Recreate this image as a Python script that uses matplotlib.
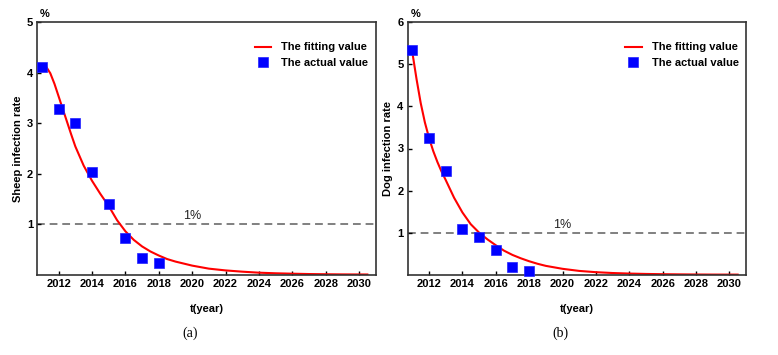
import matplotlib
matplotlib.use("Agg")
import matplotlib.pyplot as plt

plt.rcParams['font.family'] = ['Liberation Sans', 'DejaVu Sans']

# ---- data ----
years = [2011, 2012, 2013, 2014, 2015, 2016, 2017, 2018]
sheep_actual = [4.12, 3.28, 3.00, 2.03, 1.40, 0.72, 0.34, 0.24]
dog_actual = [5.34, 3.25, 2.46, 1.08, 0.89, 0.58, 0.18, 0.08]

fit_t = [2011, 2011.25, 2011.5, 2011.75, 2012, 2012.25, 2012.5, 2012.75, 2013,
         2013.5, 2014, 2014.5, 2015, 2015.5, 2016, 2016.5, 2017, 2017.5, 2018,
         2018.5, 2019, 2020, 2021, 2022, 2023, 2024, 2025, 2026, 2027, 2028,
         2029, 2030.5]
sheep_fit = [4.15, 4.12, 3.99, 3.78, 3.53, 3.28, 3.03, 2.78, 2.54,
             2.16, 1.86, 1.60, 1.36, 1.08, 0.86, 0.69, 0.56, 0.46, 0.38,
             0.31, 0.26, 0.18, 0.12, 0.085, 0.06, 0.04, 0.028, 0.02, 0.013, 0.009,
             0.006, 0.004]
dog_fit = [5.28, 4.65, 4.08, 3.62, 3.25, 2.94, 2.68, 2.45, 2.25,
           1.83, 1.48, 1.20, 1.00, 0.84, 0.70, 0.57, 0.47, 0.39, 0.32,
           0.26, 0.21, 0.14, 0.09, 0.06, 0.04, 0.027, 0.018, 0.012, 0.008, 0.005,
           0.003, 0.002]

x_ticks = [2012, 2014, 2016, 2018, 2020, 2022, 2024, 2026, 2028, 2030]
sheep_yticks = [1, 2, 3, 4, 5]
dog_yticks = [1, 2, 3, 4, 5, 6]
threshold = 1.0

W, H = 778, 355
fig = plt.figure(figsize=(W / 100, H / 100), dpi=100)

def make_axes(left_px, right_px, top_px=22.3, bottom_px=274.7):
    return fig.add_axes([left_px / W, 1 - bottom_px / H,
                         (right_px - left_px) / W, (bottom_px - top_px) / H])

panels = [
    (make_axes(37.3, 375.7), sheep_actual, sheep_fit, sheep_yticks, 5,
     'Sheep infection rate', '(a)', 190),
    (make_axes(407.7, 746.0), dog_actual, dog_fit, dog_yticks, 6,
     'Dog infection rate', '(b)', 560),
]

for ax, actual, fit, yt, ymax, ylab, cap, cap_x in panels:
    ax.axhline(threshold, color='#808080', lw=1.4, ls=(0, (4, 2.5)), zorder=1)
    ax.plot(fit_t, fit, color='#ff0000', lw=1.5, label='The fitting value', zorder=2)
    ax.plot(years, actual, ls='none', marker='s', ms=7.8, color='#0000ff',
            mec='#2222ff', mew=0.5, label='The actual value', zorder=3, clip_on=False)
    ax.set_xlim(2010.72, 2031)
    ax.set_ylim(0, ymax)
    ax.set_xticks(x_ticks)
    ax.set_yticks(yt)
    ax.tick_params(direction='in', length=3, width=1, labelsize=8, pad=3, colors='black')
    for lbl in ax.get_xticklabels() + ax.get_yticklabels():
        lbl.set_fontweight('bold')
    for s in ax.spines.values():
        s.set_linewidth(1.2)
        s.set_color('#333333')
    ax.set_xlabel('t(year)', fontsize=8, fontweight='bold', labelpad=11)
    ax.set_ylabel(ylab, fontsize=8, fontweight='bold', labelpad=3)
    ax.text(2020, threshold + 0.04, '1%', fontsize=9, ha='center', va='bottom',
            color='#222222')
    ax.text(0.008, 1.015, '%', transform=ax.transAxes, fontsize=8, fontweight='bold',
            ha='left', va='bottom')
    leg = ax.legend(loc='upper right', bbox_to_anchor=(1.008, 0.96), frameon=False,
                    prop={'size': 8, 'weight': 'bold'}, handlelength=1.5,
                    handletextpad=0.9, labelspacing=0.5, markerscale=1.0)
    fig.text(cap_x / W, 1 - 333 / H, cap, fontsize=10, family='Liberation Serif',
             ha='center', va='center')

fig.savefig('out.png', dpi=100)
